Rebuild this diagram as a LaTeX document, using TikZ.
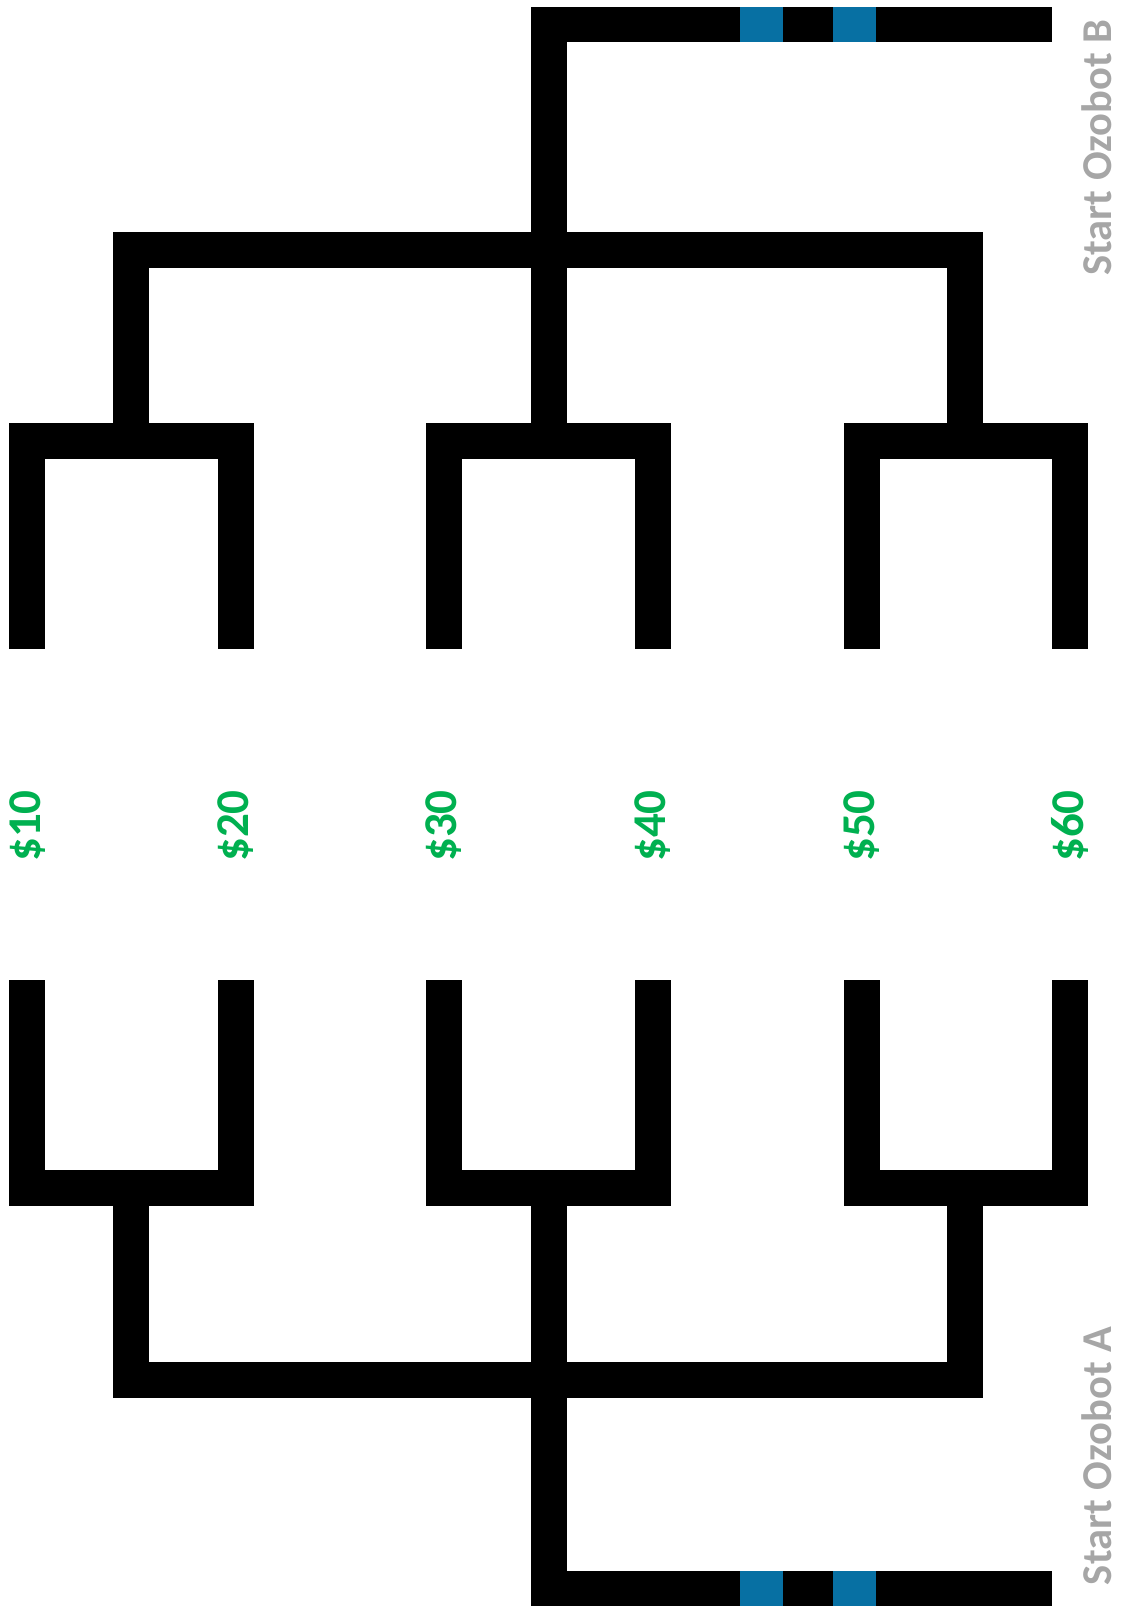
\documentclass[tikz,border=0pt]{standalone}
\usepackage{fontspec}
\setmainfont{Carlito}
\definecolor{ozoblue}{HTML}{0770A3}
\definecolor{pricegreen}{HTML}{00B050}
\definecolor{startgray}{HTML}{A6A6A6}
\begin{document}
\begin{tikzpicture}[x=1pt,y=-1pt,
  track/.style={draw=black,line width=35.5pt,line join=miter,line cap=butt},
  price/.style={text=pricegreen,font=\fontsize{47}{50}\selectfont\bfseries,rotate=90,inner sep=0pt},
  startlbl/.style={text=startgray,font=\fontsize{42.5}{46}\selectfont\bfseries,rotate=90,inner sep=0pt}]
\useasboundingbox (0,0) rectangle (1120,1611);
% upper half
\draw[track] (27,649) -- (27,441) -- (236,441) -- (236,649);
\draw[track] (444,649) -- (444,441) -- (653,441) -- (653,649);
\draw[track] (862,649) -- (862,441) -- (1070,441) -- (1070,649);
\draw[track] (131,441) -- (131,250) -- (965,250) -- (965,441);
\draw[track] (549,441) -- (549,24.5) -- (1052,24.5);
\fill[ozoblue] (740,6.75) rectangle (783,42.25);
\fill[ozoblue] (833,6.75) rectangle (876,42.25);
% lower half
\draw[track] (27,980) -- (27,1188) -- (236,1188) -- (236,980);
\draw[track] (444,980) -- (444,1188) -- (653,1188) -- (653,980);
\draw[track] (862,980) -- (862,1188) -- (1070,1188) -- (1070,980);
\draw[track] (131,1188) -- (131,1380) -- (965,1380) -- (965,1188);
\draw[track] (549,1188) -- (549,1588.5) -- (1052,1588.5);
\fill[ozoblue] (740,1570.75) rectangle (783,1606.25);
\fill[ozoblue] (833,1570.75) rectangle (876,1606.25);
% prices
\node[price] (p10) at (28,826) {\$10};
\node[price] (p20) at (236,826) {\$20};
\node[price] (p30) at (444,826) {\$30};
\node[price] (p40) at (653,826) {\$40};
\node[price] (p50) at (862,826) {\$50};
\node[price] (p60) at (1070,826) {\$60};
% start labels
\node[startlbl] (sb) at (1097,147.5) {Start Ozobot B};
\node[startlbl] (sa) at (1097,1456) {Start Ozobot A};
\end{tikzpicture}
\end{document}
